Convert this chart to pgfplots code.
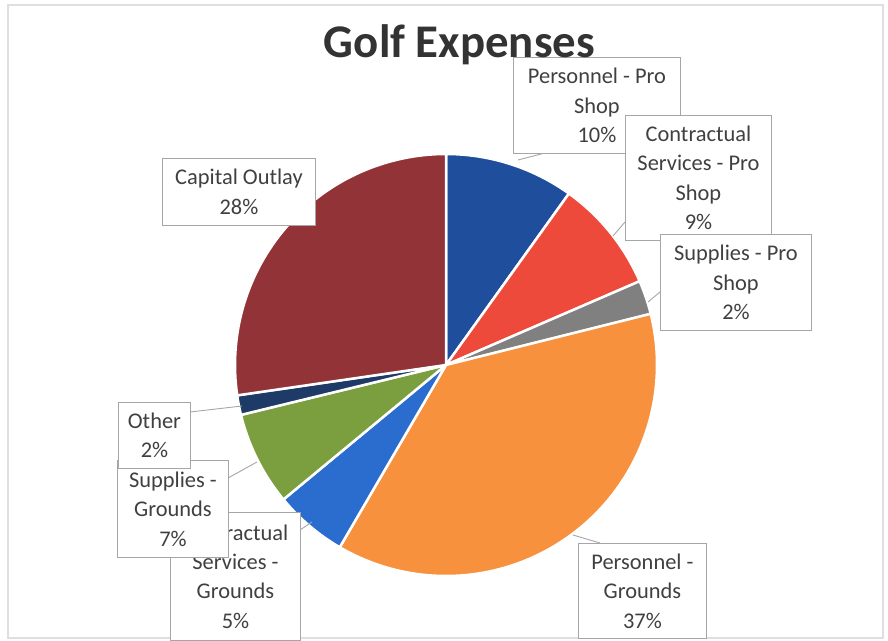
\documentclass[border=0pt]{standalone}
\usepackage{pgfplots}
\pgfplotsset{compat=1.18}
\usepackage{fontspec}
\setmainfont{Carlito}
\definecolor{cpps}{HTML}{1F4E9C}
\definecolor{ccps}{HTML}{EE4A3B}
\definecolor{csps}{HTML}{808080}
\definecolor{cpg}{HTML}{F7913D}
\definecolor{ccg}{HTML}{2B6CCF}
\definecolor{csg}{HTML}{7B9F3E}
\definecolor{coth}{HTML}{1E3A66}
\definecolor{cco}{HTML}{913337}
\definecolor{txt}{HTML}{404040}
\definecolor{ttl}{HTML}{333333}
\definecolor{bx}{HTML}{A6A6A6}
\tikzset{lbl/.style={draw=bx, fill=white, line width=0.9bp, align=center,
    font=\fontsize{22.5}{29.5}\selectfont, text=txt, inner sep=0pt, anchor=north west}}
% slice: percentage, colour ; slices run clockwise from 12 o'clock
\gdef\cumang{90}
\newcommand\pieslice[2]{%
  \pgfmathsetmacro\sA{\cumang}%
  \pgfmathsetmacro\sB{\cumang-3.6*#1}%
  \xdef\cumang{\sB}%
  \gdef\pts{}%
  \pgfmathtruncatemacro\nn{max(2,ceil(3.6*#1/1.5))}%
  \foreach \i in {0,...,\nn}{%
    \pgfmathsetmacro\aa{\sA+(\sB-\sA)*\i/\nn}%
    \xdef\pts{\pts (\aa,211)}%
  }%
  \edef\doplot{\noexpand\addplot[draw=white, line width=2.5bp, line join=round, fill=#2, data cs=polar] coordinates {(0,0) \pts} -- cycle;}%
  \doplot
}
\begin{document}
\begin{tikzpicture}
\begin{axis}[
  scale only axis, width=888bp, height=641bp,
  xmin=-446, xmax=442, ymin=-276, ymax=365,
  xtick=\empty, ytick=\empty, axis line style={draw=none},
  clip=false,
]
\draw[gray!25, line width=1.2bp] (axis cs:-438,-273) rectangle (axis cs:437,360);
\pieslice{9.9}{cpps}   % Personnel - Pro Shop
\pieslice{8.6}{ccps}   % Contractual Services - Pro Shop
\pieslice{2.6}{csps}   % Supplies - Pro Shop
\pieslice{37.3}{cpg}   % Personnel - Grounds
\pieslice{5.6}{ccg}    % Contractual Services - Grounds
\pieslice{7.2}{csg}    % Supplies - Grounds
\pieslice{1.5}{coth}   % Other
\pieslice{27.3}{cco}   % Capital Outlay
% leader lines
\draw[bx, line width=0.9bp] (axis cs:72,205) -- (axis cs:99,212);
\draw[bx, line width=0.9bp] (axis cs:167,129) -- (axis cs:179,143);
\draw[bx, line width=0.9bp] (axis cs:202,63) -- (axis cs:214,73);
\draw[bx, line width=0.9bp] (axis cs:127,-170) -- (axis cs:154,-178);
\draw[bx, line width=0.9bp] (axis cs:-134,-157) -- (axis cs:-146,-165);
\draw[bx, line width=0.9bp] (axis cs:-189,-97) -- (axis cs:-218,-113);
\draw[bx, line width=0.9bp] (axis cs:-204,-41) -- (axis cs:-256,-47);
% labels
\node[lbl, minimum width=167bp, minimum height=96bp] at (axis cs:67,308) {Personnel - Pro\\Shop\\10\%};
\node[lbl, minimum width=146bp, minimum height=125bp] at (axis cs:179,250) {Contractual\\Services - Pro\\Shop\\9\%};
\node[lbl, minimum width=151bp, minimum height=96bp] at (axis cs:214,131) {Supplies - Pro\\Shop\\2\%};
\node[lbl, minimum width=128bp, minimum height=95bp] at (axis cs:132,-178) {Personnel -\\Grounds\\37\%};
\node[lbl, minimum width=130bp, minimum height=128bp] at (axis cs:-276,-147) {Contractual\\Services -\\Grounds\\5\%};
\node[lbl, minimum width=111bp, minimum height=97bp] at (axis cs:-329,-95) {Supplies -\\Grounds\\7\%};
\node[lbl, minimum width=72bp, minimum height=66bp] at (axis cs:-328,-37) {Other\\2\%};
\node[lbl, minimum width=153bp, minimum height=67bp] at (axis cs:-284,207) {Capital Outlay\\28\%};
\node[anchor=base, font=\fontsize{47}{50}\selectfont\bfseries, text=ttl, inner sep=0pt] at (axis cs:13.5,307) {Golf Expenses};
\end{axis}
\end{tikzpicture}
\end{document}
